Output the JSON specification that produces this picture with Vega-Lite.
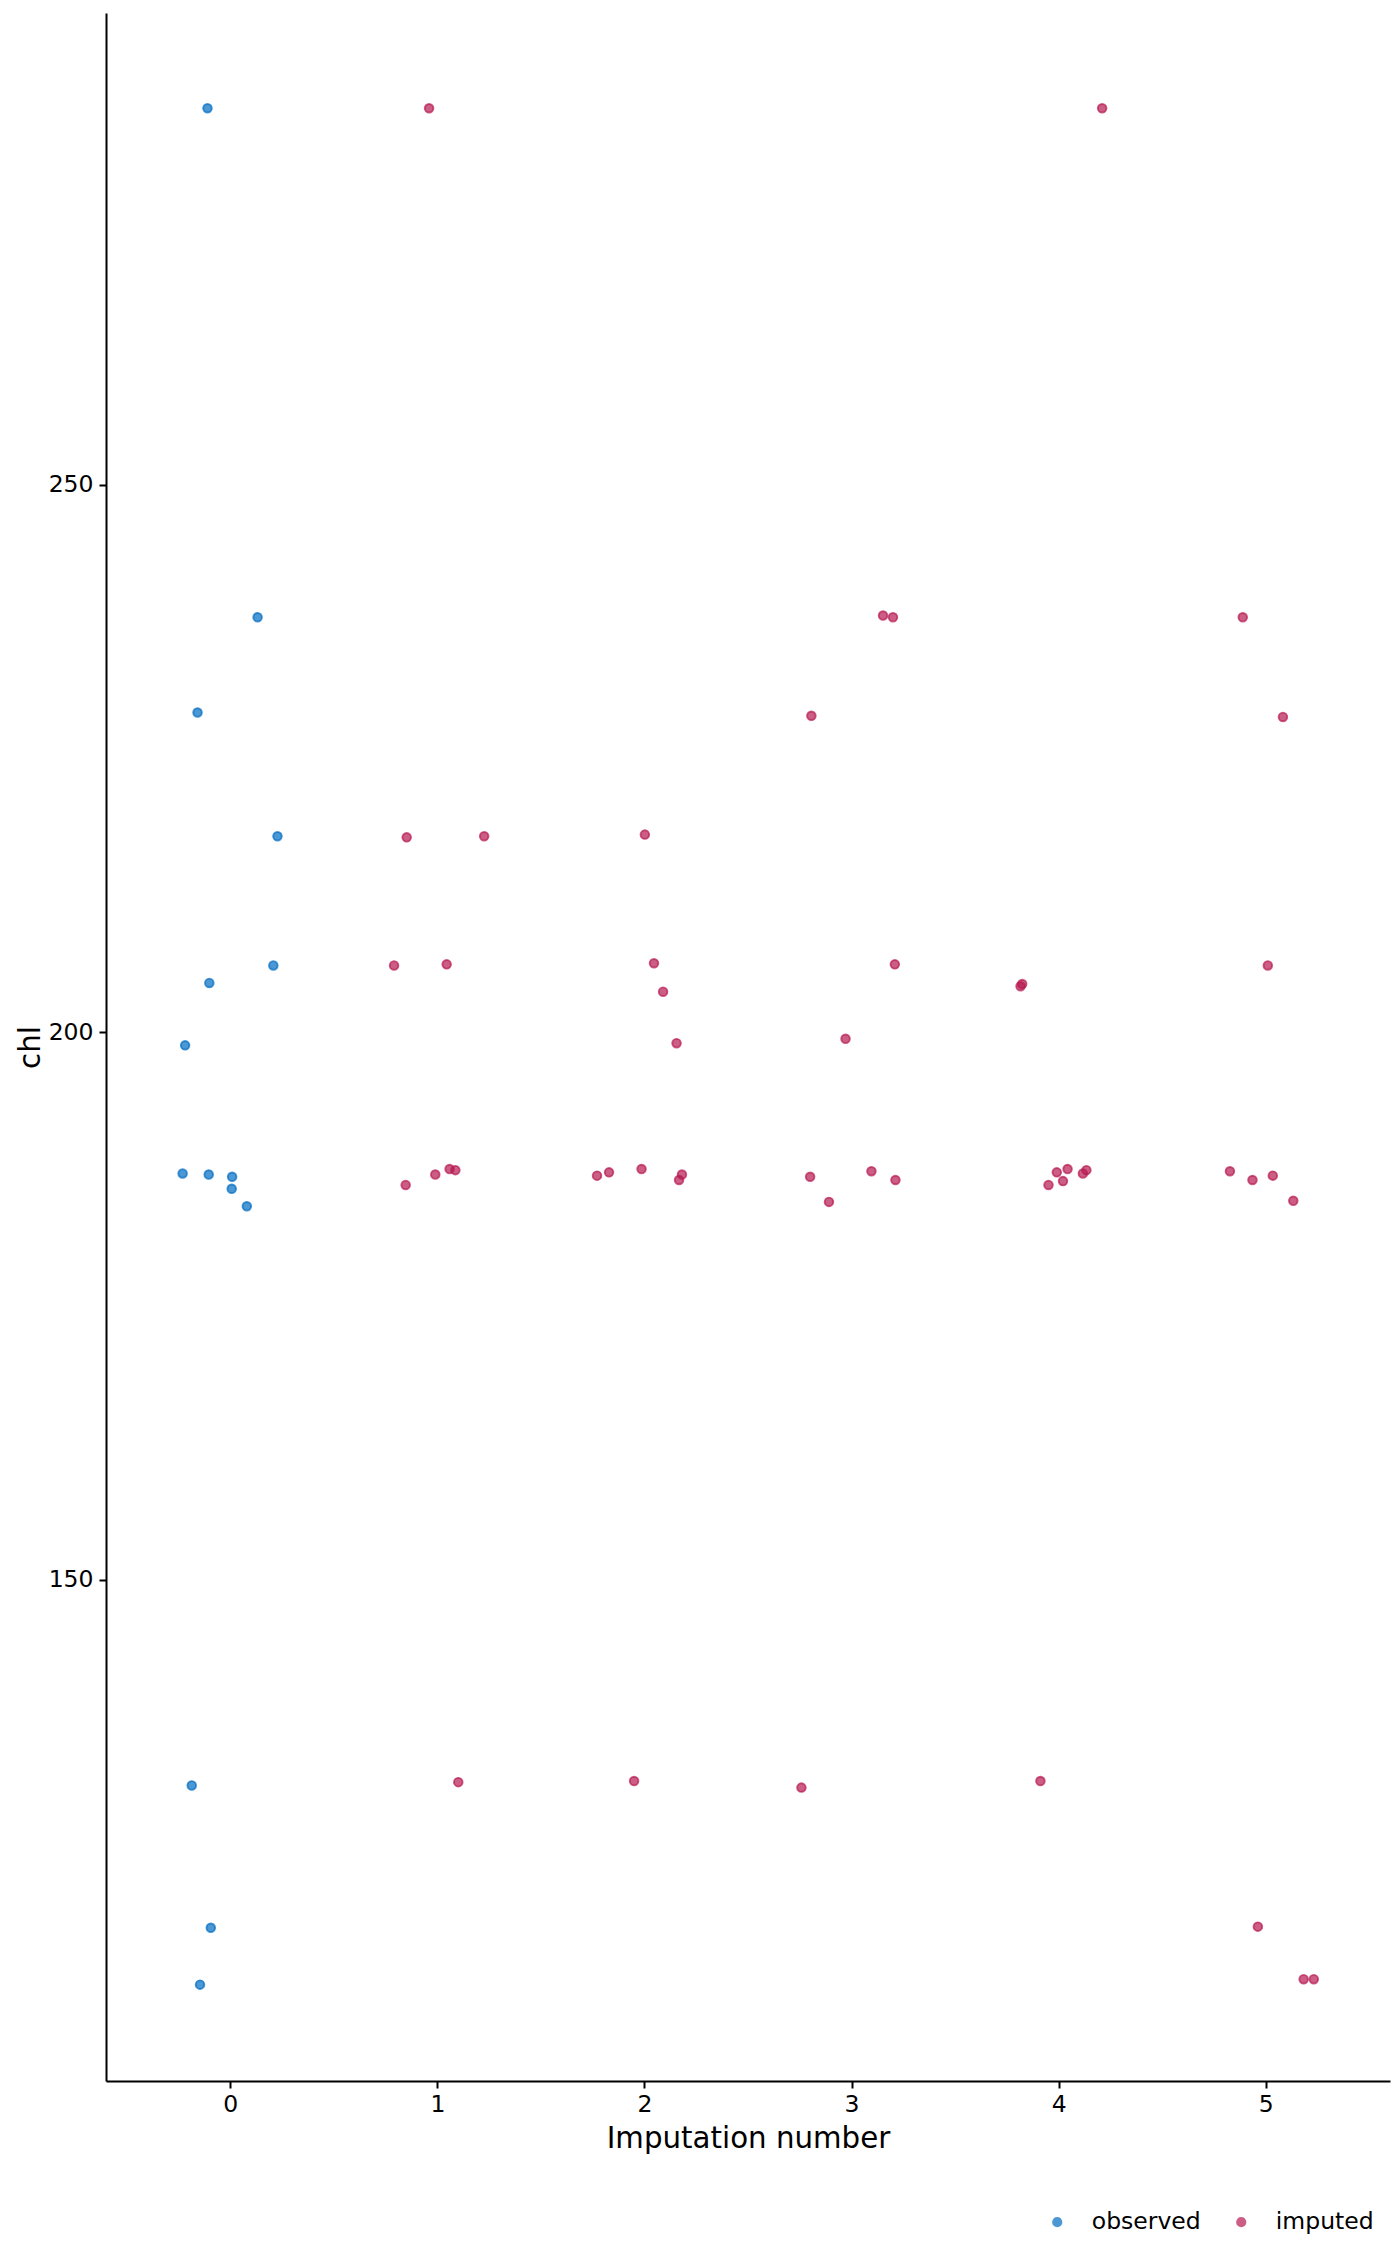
{
  "$schema": "https://vega.github.io/schema/vega-lite/v6.json",
  "description": "Strip plot of chl by imputation number, observed vs imputed",
  "autosize": {"type": "none"},
  "padding": {"left": 106, "top": 13, "right": 10, "bottom": 185},
  "width": 1284,
  "height": 2068,
  "background": "white",
  "config": {"view": {"stroke": null}, "font": "DejaVu Sans"},
  "data": {
    "values": [
      {"imputation": -0.110, "chl": 284.4, "group": "observed"},
      {"imputation": 0.132, "chl": 237.9, "group": "observed"},
      {"imputation": -0.158, "chl": 229.2, "group": "observed"},
      {"imputation": 0.228, "chl": 217.9, "group": "observed"},
      {"imputation": 0.208, "chl": 206.1, "group": "observed"},
      {"imputation": -0.101, "chl": 204.5, "group": "observed"},
      {"imputation": -0.218, "chl": 198.8, "group": "observed"},
      {"imputation": -0.230, "chl": 187.1, "group": "observed"},
      {"imputation": -0.104, "chl": 187.0, "group": "observed"},
      {"imputation": 0.009, "chl": 186.8, "group": "observed"},
      {"imputation": 0.007, "chl": 185.7, "group": "observed"},
      {"imputation": 0.080, "chl": 184.1, "group": "observed"},
      {"imputation": -0.186, "chl": 131.2, "group": "observed"},
      {"imputation": -0.094, "chl": 118.2, "group": "observed"},
      {"imputation": -0.146, "chl": 113.0, "group": "observed"},

      {"imputation": 0.960, "chl": 284.4, "group": "imputed"},
      {"imputation": 0.852, "chl": 217.8, "group": "imputed"},
      {"imputation": 1.226, "chl": 217.9, "group": "imputed"},
      {"imputation": 0.791, "chl": 206.1, "group": "imputed"},
      {"imputation": 1.045, "chl": 206.2, "group": "imputed"},
      {"imputation": 0.847, "chl": 186.05, "group": "imputed"},
      {"imputation": 0.990, "chl": 187.0, "group": "imputed"},
      {"imputation": 1.059, "chl": 187.5, "group": "imputed"},
      {"imputation": 1.087, "chl": 187.4, "group": "imputed"},
      {"imputation": 1.101, "chl": 131.5, "group": "imputed"},

      {"imputation": 2.002, "chl": 218.05, "group": "imputed"},
      {"imputation": 2.046, "chl": 206.3, "group": "imputed"},
      {"imputation": 2.090, "chl": 203.7, "group": "imputed"},
      {"imputation": 2.155, "chl": 199.0, "group": "imputed"},
      {"imputation": 1.771, "chl": 186.9, "group": "imputed"},
      {"imputation": 1.829, "chl": 187.2, "group": "imputed"},
      {"imputation": 1.986, "chl": 187.5, "group": "imputed"},
      {"imputation": 2.181, "chl": 187.0, "group": "imputed"},
      {"imputation": 2.167, "chl": 186.5, "group": "imputed"},
      {"imputation": 1.950, "chl": 131.6, "group": "imputed"},

      {"imputation": 2.806, "chl": 228.9, "group": "imputed"},
      {"imputation": 3.152, "chl": 238.06, "group": "imputed"},
      {"imputation": 3.200, "chl": 237.9, "group": "imputed"},
      {"imputation": 3.209, "chl": 206.2, "group": "imputed"},
      {"imputation": 2.971, "chl": 199.4, "group": "imputed"},
      {"imputation": 2.800, "chl": 186.8, "group": "imputed"},
      {"imputation": 2.891, "chl": 184.5, "group": "imputed"},
      {"imputation": 3.096, "chl": 187.3, "group": "imputed"},
      {"imputation": 3.212, "chl": 186.5, "group": "imputed"},
      {"imputation": 2.758, "chl": 131.0, "group": "imputed"},

      {"imputation": 4.210, "chl": 284.4, "group": "imputed"},
      {"imputation": 3.816, "chl": 204.2, "group": "imputed"},
      {"imputation": 3.824, "chl": 204.4, "group": "imputed"},
      {"imputation": 3.951, "chl": 186.05, "group": "imputed"},
      {"imputation": 3.991, "chl": 187.2, "group": "imputed"},
      {"imputation": 4.021, "chl": 186.4, "group": "imputed"},
      {"imputation": 4.043, "chl": 187.5, "group": "imputed"},
      {"imputation": 4.117, "chl": 187.1, "group": "imputed"},
      {"imputation": 4.134, "chl": 187.4, "group": "imputed"},
      {"imputation": 3.912, "chl": 131.6, "group": "imputed"},

      {"imputation": 4.889, "chl": 237.9, "group": "imputed"},
      {"imputation": 5.083, "chl": 228.8, "group": "imputed"},
      {"imputation": 5.010, "chl": 206.1, "group": "imputed"},
      {"imputation": 4.827, "chl": 187.3, "group": "imputed"},
      {"imputation": 4.936, "chl": 186.5, "group": "imputed"},
      {"imputation": 5.034, "chl": 186.9, "group": "imputed"},
      {"imputation": 5.133, "chl": 184.6, "group": "imputed"},
      {"imputation": 4.962, "chl": 118.3, "group": "imputed"},
      {"imputation": 5.183, "chl": 113.5, "group": "imputed"},
      {"imputation": 5.232, "chl": 113.5, "group": "imputed"}
    ]
  },
  "mark": {
    "type": "circle",
    "size": 74,
    "fillOpacity": 0.7,
    "strokeOpacity": 0.7,
    "strokeWidth": 1.9
  },
  "encoding": {
    "x": {
      "field": "imputation",
      "type": "quantitative",
      "scale": {"domain": [-0.6, 5.6], "nice": false, "zero": false},
      "axis": {
        "title": "Imputation number",
        "values": [0, 1, 2, 3, 4, 5],
        "format": "d",
        "grid": false,
        "domainColor": "black",
        "domainWidth": 2,
        "tickColor": "black",
        "tickWidth": 2,
        "tickSize": 7,
        "labelFontSize": 23.5,
        "labelColor": "black",
        "labelPadding": 4,
        "titleFontSize": 29.3,
        "titleFontWeight": "normal",
        "titleColor": "black",
        "titleBaseline": "alphabetic",
        "titleY": 66
      }
    },
    "y": {
      "field": "chl",
      "type": "quantitative",
      "scale": {"domain": [104.2, 293.1], "nice": false, "zero": false},
      "axis": {
        "title": "chl",
        "values": [150, 200, 250],
        "grid": false,
        "domainColor": "black",
        "domainWidth": 2,
        "tickColor": "black",
        "tickWidth": 2,
        "tickSize": 7,
        "labelFontSize": 23.5,
        "labelColor": "black",
        "labelPadding": 6,
        "titleFontSize": 29.3,
        "titleFontWeight": "normal",
        "titleColor": "black",
        "titleAngle": -90,
        "titleBaseline": "alphabetic",
        "titleAlign": "center",
        "titleX": -67,
        "titleY": 1034
      }
    },
    "color": {
      "field": "group",
      "type": "nominal",
      "scale": {"domain": ["observed", "imputed"], "range": ["#006CC2", "#B61A51"]},
      "legend": {
        "title": null,
        "orient": "none",
        "direction": "horizontal",
        "legendX": 939.5,
        "legendY": 2197,
        "padding": 0,
        "symbolType": "circle",
        "symbolSize": 104,
        "symbolOpacity": 0.7,
        "symbolStrokeWidth": 0,
        "labelFontSize": 23.5,
        "labelColor": "black",
        "labelOffset": 22.8,
        "columnPadding": 28
      }
    },
    "stroke": {
      "field": "group",
      "type": "nominal",
      "scale": {"domain": ["observed", "imputed"], "range": ["#006CC2", "#B61A51"]},
      "legend": null
    }
  }
}
